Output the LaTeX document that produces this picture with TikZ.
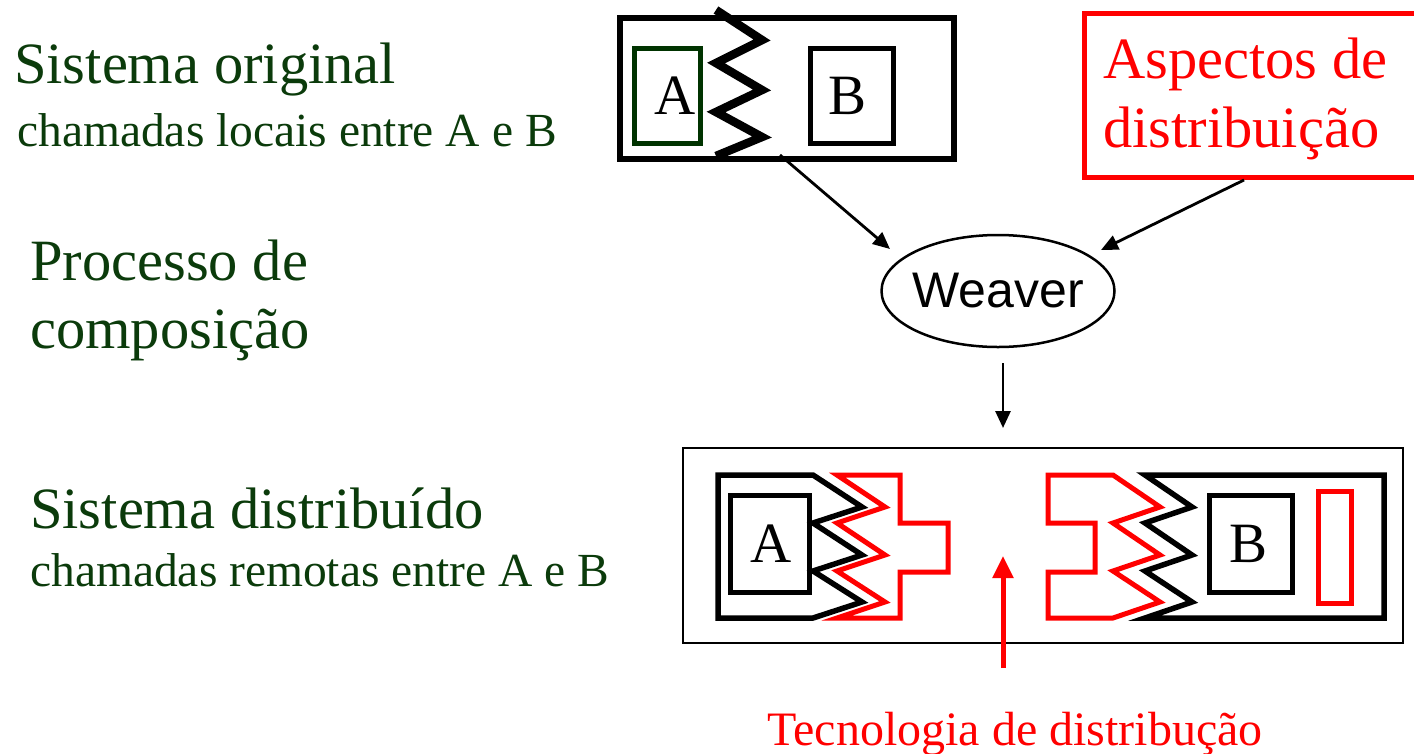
\documentclass[tikz,border=0pt]{standalone}
\usepackage{fontspec}
\setmainfont{Liberation Serif}
\newfontfamily\arialfont{Liberation Sans}
\usetikzlibrary{arrows.meta,shapes.geometric}
\definecolor{dgreen}{HTML}{0B3B0B}
\definecolor{boxgreen}{HTML}{003300}
\definecolor{pred}{HTML}{FF0000}
\tikzset{
  big/.style={font=\fontsize{58.5}{68}\selectfont},
  small/.style={font=\fontsize{47.5}{56}\selectfont},
  lbl/.style={anchor=base west, inner sep=0pt, text=dgreen},
  thickblk/.style={draw=black, line width=5.5pt, line join=miter},
  thickred/.style={draw=pred, line width=5pt, line join=miter},
  zig/.style={draw=black, line width=8.5pt, line join=miter},
  conn/.style={draw=black, line width=2.8pt, -{Triangle[length=17pt,width=15pt]}},
  redconn/.style={draw=pred, line width=5pt, -{Triangle[length=22pt,width=20pt]}},
  letter/.style={inner sep=0pt, font=\fontsize{57}{60}\selectfont},
}
\begin{document}
\begin{tikzpicture}[x=1pt,y=-1pt]
\useasboundingbox (0,0) rectangle (1414,753);
% left labels
\node[lbl,big] (t1) at (14,83) {Sistema original};
\node[lbl,small] (t2) at (17,146) {chamadas locais entre A e B};
\node[lbl,big] (t3) at (30,280) {Processo de};
\node[lbl,big] (t4) at (30,348) {composição};
\node[lbl,big] (t5) at (30,528) {Sistema distribuído};
\node[lbl,small] (t6) at (30,586) {chamadas remotas entre A e B};
% top original system
\draw[line width=5.5pt] (620,18) rectangle (954,159);
\node[draw=boxgreen, line width=5pt, minimum width=66pt, minimum height=95pt, inner sep=0pt] (boxA) at (667,96) {};
\node[letter] (la) at (675,96) {A};
\node[draw=black, line width=5pt, minimum width=83pt, minimum height=95pt, inner sep=0pt] (boxB) at (852,96) {};
\node[letter] (lb) at (848,96) {B};
\draw[zig] (716,10) -- (762,40) -- (716,63) -- (762,90) -- (716,112) -- (762,137) -- (716,156);
\coordinate (topout) at (780,155);
% red aspects box
\draw[line width=5pt, draw=pred] (1084,13) rectangle (1430,177);
\node[anchor=base west, inner sep=0pt, text=pred, font=\fontsize{58.5}{69}\selectfont] (asp1) at (1103,78) {Aspectos de};
\node[anchor=base west, inner sep=0pt, text=pred, font=\fontsize{58.5}{69}\selectfont] (asp2) at (1103,147) {distribuição};
\coordinate (aspout) at (1244,180);
% weaver
\node[draw, ellipse, line width=2.5pt, minimum width=233pt, minimum height=112pt, inner xsep=-15pt, inner ysep=0pt, font=\arialfont\fontsize{50}{52}\selectfont] (weaver) at (998,291) {Weaver};
\draw[conn] (topout) -- (890,249);
\draw[conn] (aspout) -- (1101,250);
\coordinate (wdown) at (1003,363);
\coordinate (wdownend) at (1003,428);
\draw[conn] (wdown) -- (wdownend);
% bottom distributed system
\draw[line width=2.2pt] (683,448) rectangle (1403,643);
% left component
\draw[thickblk] (813,475) -- (718,475) -- (718,618) -- (813,618)
  -- (862,602) -- (813,571) -- (862,555) -- (813,523) -- (862,507) -- cycle;
\node[draw=black, line width=5pt, minimum width=79pt, minimum height=97pt, inner sep=0pt] (boxA2) at (770,544) {};
\node[letter] (la2) at (771,544) {A};
\draw[thickred] (837,475) -- (900,475) -- (900,523) -- (948,523) -- (948,572) -- (900,572) -- (900,618) -- (837,618)
  -- (885,602) -- (837,571) -- (885,555) -- (837,523) -- (885,507) -- cycle;
% right component
\draw[thickred] (1113,475) -- (1048,475) -- (1048,523) -- (1095,523) -- (1095,572) -- (1048,572) -- (1048,618) -- (1113,618)
  -- (1160,602) -- (1113,571) -- (1160,555) -- (1113,523) -- (1160,507) -- cycle;
\draw[thickblk] (1145,475) -- (1384,475) -- (1384,618) -- (1145,618)
  -- (1192,602) -- (1145,571) -- (1192,555) -- (1145,523) -- (1192,507) -- cycle;
\node[draw=black, line width=5pt, minimum width=83pt, minimum height=97pt, inner sep=0pt] (boxB2) at (1251,544) {};
\node[letter] (lb2) at (1248,544) {B};
\node[draw=pred, line width=5pt, minimum width=33pt, minimum height=112pt, inner sep=0pt] (redbar) at (1335,547) {};
% technology label
\node[anchor=base, inner sep=0pt, text=pred, font=\fontsize{48}{56}\selectfont] (tech) at (1015,745) {Tecnologia de distribução};
\coordinate (arrbot) at (1003,668);
\coordinate (arrtop) at (1003,556);
\draw[redconn] (arrbot) -- (arrtop);
\end{tikzpicture}
\end{document}
